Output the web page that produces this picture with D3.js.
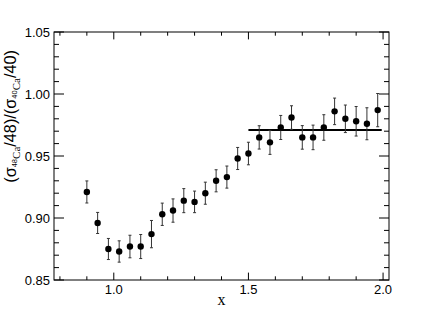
<!DOCTYPE html>
<html>
<head>
<meta charset="utf-8">
<script src="https://cdn.jsdelivr.net/npm/d3@7"></script>
<style>
  html, body { margin: 0; padding: 0; background: #fff; }
  svg { display: block; }
</style>
</head>
<body>
<svg id="chart" width="432" height="312"></svg>
<script>
// ---- data ----
const xValues = [0.90, 0.94, 0.98, 1.02, 1.06, 1.10, 1.14, 1.18, 1.22, 1.26, 1.30, 1.34, 1.38, 1.42,
                 1.46, 1.50, 1.54, 1.58, 1.62, 1.66, 1.70, 1.74, 1.78, 1.82, 1.86, 1.90, 1.94, 1.98];
const ratioValues = [0.921, 0.896, 0.875, 0.873, 0.877, 0.877, 0.887, 0.903, 0.906, 0.914, 0.913, 0.920, 0.930, 0.933,
                     0.948, 0.952, 0.965, 0.961, 0.973, 0.981, 0.965, 0.965, 0.973, 0.986, 0.980, 0.978, 0.976, 0.987];
const ratioErrors = [0.0089, 0.0085, 0.0085, 0.0086, 0.0091, 0.0097, 0.0110, 0.0090, 0.0094, 0.0097, 0.0087, 0.0089, 0.0089, 0.0089,
                     0.0089, 0.0091, 0.0094, 0.0097, 0.0097, 0.0095, 0.0095, 0.0099, 0.0103, 0.0107, 0.0111, 0.0119, 0.0129, 0.0134];
const plateauX = [1.50, 1.995];
const plateauY = 0.971;
const xMajorTicks = [1.0, 1.5, 2.0];
const xTickLabels = ["1.0", "1.5", "2.0"];
const yMajorTicks = [0.85, 0.90, 0.95, 1.00, 1.05];
const yTickLabels = ["0.85", "0.90", "0.95", "1.00", "1.05"];

// ---- layout ----
const L = 54, R = 389, T = 32, B = 280;
const svg = d3.select("#chart");
const x = d3.scaleLinear().domain([0.778, 2.022]).range([L, R]);
const y = d3.scaleLinear().domain([0.85, 1.05]).range([B, T]);

const xMinor = d3.range(8, 21).map(d => d / 10).filter(d => !xMajorTicks.some(m => Math.abs(m - d) < 1e-9));
const yMinor = d3.range(85, 106).map(d => d / 100).filter(d => !yMajorTicks.some(m => Math.abs(m - d) < 1e-9));

const sans = "'Liberation Sans', Arial, Helvetica, sans-serif";
const serif = "'Liberation Serif', 'Times New Roman', serif";

const g = svg.append("g");

// frame
g.append("rect").attr("x", L).attr("y", T).attr("width", R - L).attr("height", B - T)
  .attr("fill", "none").attr("stroke", "#000").attr("stroke-width", 1);

// ticks (all four sides, pointing inward)
const xMaj = 7.4, xMin = 3.7, yMaj = 10, yMin = 5;
const tk = g.append("g").attr("stroke", "#000").attr("stroke-width", 1);
xMajorTicks.concat(xMinor).forEach(v => {
  const len = xMajorTicks.includes(v) ? xMaj : xMin;
  const px = x(v);
  tk.append("line").attr("x1", px).attr("x2", px).attr("y1", B).attr("y2", B - len);
  tk.append("line").attr("x1", px).attr("x2", px).attr("y1", T).attr("y2", T + len);
});
yMajorTicks.concat(yMinor).forEach(v => {
  const len = yMajorTicks.includes(v) ? yMaj : yMin;
  const py = y(v);
  tk.append("line").attr("x1", L).attr("x2", L + len).attr("y1", py).attr("y2", py);
  tk.append("line").attr("x1", R).attr("x2", R - len).attr("y1", py).attr("y2", py);
});

// tick labels
g.append("g").selectAll("text").data(xMajorTicks).join("text")
  .attr("x", d => x(d)).attr("y", B + 14)
  .attr("text-anchor", "middle").attr("font-family", sans).attr("font-size", 13).attr("fill", "#000")
  .text((d, i) => xTickLabels[i]);
g.append("g").selectAll("text").data(yMajorTicks).join("text")
  .attr("x", L - 4).attr("y", d => y(d) + 4.6)
  .attr("text-anchor", "end").attr("font-family", sans).attr("font-size", 13).attr("fill", "#000")
  .text((d, i) => yTickLabels[i]);

// axis titles
g.append("text").attr("x", (L + R) / 2).attr("y", 305)
  .attr("text-anchor", "middle").attr("font-family", serif).attr("font-size", 16).attr("fill", "#000")
  .text("x");

const yt = g.append("text")
  .attr("transform", "translate(15.5,50) rotate(-90)")
  .attr("text-anchor", "end").attr("font-family", sans).attr("font-size", 16.3).attr("fill", "#000");
function sigmaPart(mass, denom) {
  yt.append("tspan").text("(σ");
  yt.append("tspan").attr("font-size", 7.5).attr("dy", 1).text(mass);
  yt.append("tspan").attr("font-size", 11).attr("font-family", serif).attr("dy", 3).text("Ca");
  yt.append("tspan").attr("dy", -4).text("/" + denom + ")");
}
sigmaPart("48", "48");
yt.append("tspan").text("/");
sigmaPart("40", "40");

// plateau line
g.append("line")
  .attr("x1", x(plateauX[0])).attr("x2", x(plateauX[1]))
  .attr("y1", y(plateauY)).attr("y2", y(plateauY))
  .attr("stroke", "#000").attr("stroke-width", 2);

// error bars
const pts = xValues.map((v, i) => ({x: v, y: ratioValues[i], e: ratioErrors[i]}));
const eb = g.append("g").attr("stroke", "#333").attr("stroke-width", 1);
pts.forEach(p => {
  const px = x(p.x);
  eb.append("line").attr("x1", px).attr("x2", px).attr("y1", y(p.y - p.e)).attr("y2", y(p.y + p.e));
  eb.append("line").attr("x1", px - 1.5).attr("x2", px + 1.5).attr("y1", y(p.y - p.e)).attr("y2", y(p.y - p.e));
  eb.append("line").attr("x1", px - 1.5).attr("x2", px + 1.5).attr("y1", y(p.y + p.e)).attr("y2", y(p.y + p.e));
});

// markers
g.append("g").selectAll("circle").data(pts).join("circle")
  .attr("cx", d => x(d.x)).attr("cy", d => y(d.y)).attr("r", 3.2).attr("fill", "#000");
</script>
</body>
</html>
